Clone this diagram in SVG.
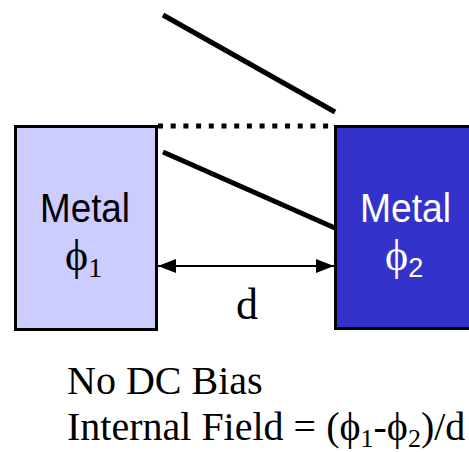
<svg xmlns="http://www.w3.org/2000/svg" width="469" height="452" viewBox="0 0 469 452">
<style>
.box{stroke:#000;stroke-width:3}
.sans{font-family:"Liberation Sans",Arial,sans-serif}
.serif{font-family:"Liberation Serif","Times New Roman",serif}
.ln{stroke:#000;stroke-width:5;fill:none}
</style>
<defs>
<marker id="ah" viewBox="0 0 18 14" refX="18" refY="7" markerWidth="18" markerHeight="14" markerUnits="userSpaceOnUse" orient="auto-start-reverse">
<path d="M0,0 L18,7 L0,14 Z" fill="#000"/>
</marker>
</defs>
<rect width="469" height="452" fill="#fff"/>
<g id="metal1">
<rect class="box" x="15.5" y="126.5" width="141" height="203" fill="#CCCCFF"/>
<text class="sans" x="40" y="222" font-size="40" textLength="90" lengthAdjust="spacingAndGlyphs" fill="#000">Metal</text>
<text x="65" y="270" fill="#000"><tspan class="serif" font-size="44">ϕ</tspan><tspan class="serif" font-size="28" dy="7">1</tspan></text>
</g>
<g id="metal2">
<rect class="box" x="335.5" y="126.5" width="140" height="202" fill="#3333CC"/>
<text class="sans" x="360" y="222" font-size="40" textLength="91" lengthAdjust="spacingAndGlyphs" fill="#fff">Metal</text>
<text x="385" y="270" fill="#fff"><tspan class="serif" font-size="44">ϕ</tspan><tspan class="sans" font-size="27" dy="7">2</tspan></text>
</g>
<g id="connectors">
<line class="ln" x1="163" y1="15" x2="335" y2="112"/>
<line class="ln" x1="163" y1="152" x2="335" y2="228"/>
<line x1="158" y1="126" x2="335" y2="126" stroke="#000" stroke-width="5" stroke-dasharray="5,7.7"/>
<line x1="158" y1="266" x2="334" y2="266" stroke="#000" stroke-width="2" marker-start="url(#ah)" marker-end="url(#ah)"/>
</g>
<g id="labels">
<text class="serif" x="247" y="319" font-size="44" text-anchor="middle">d</text>
<text class="serif" x="67" y="394" font-size="40">No DC Bias</text>
<text class="serif" x="67" y="440" font-size="40">Internal Field = (ϕ<tspan font-size="26" dy="7">1</tspan><tspan dy="-7">-ϕ</tspan><tspan font-size="26" dy="7">2</tspan><tspan dy="-7">)/d</tspan></text>
</g>
</svg>
